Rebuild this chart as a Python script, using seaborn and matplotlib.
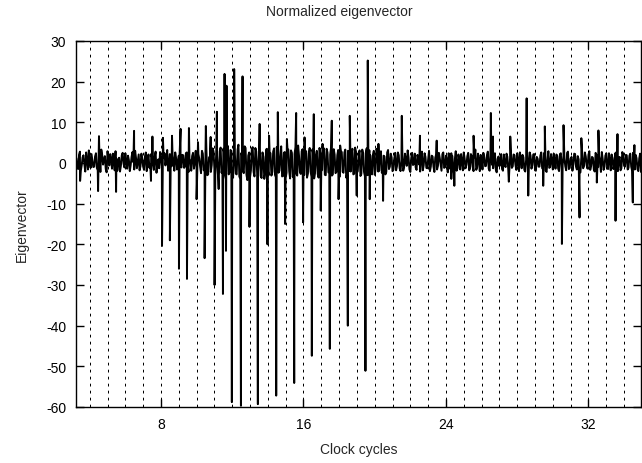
import numpy as np
import pandas as pd
import matplotlib
matplotlib.use("Agg")
import matplotlib.pyplot as plt
import seaborn as sns

# ---------------- data ----------------
title_text = "Normalized eigenvector"
x_label = "Clock cycles"
y_label = "Eigenvector"
x_ticks = [8, 16, 24, 32]
y_ticks = [30, 20, 10, 0, -10, -20, -30, -40, -50, -60]
x_limits = (3.23, 34.95)
y_limits = (-60, 30)

# background noise of the eigenvector, sampled every 0.1 clock cycle
# (set A starts at 3.25, set B starts at 3.30)
noise_step = 0.1
noise_a_start = 3.25
noise_a = [
    1.2, -1.5, 2.8, -0.6, 1.9, -2.1, 0.8, 3.1, -1.2, 0.5,
    -0.9, 2.4, -1.8, 1.1, 3.3, -0.4, 1.7, -2.3, 0.9, 2.2,
    -1.4, 0.6, 2.9, -1.9, 1.3, -0.7, 2.5, -1.1, 0.3, 1.8,
    -2.0, 1.5, 0.2, 3.0, -1.3, 2.1, -0.8, 1.0, -1.7, 2.6,
    0.4, -1.2, 2.2, -0.5, 1.6, -2.4, 0.9, 2.7, -1.0, 1.4,
    -0.6, 3.2, -1.5, 0.7, 2.0, -1.9, 1.2, -0.3, 2.5, -1.1,
    1.9, -0.8, 2.6, -2.2, 0.5, 1.7, -1.4, 3.0, -0.2, 1.1,
    -2.5, 2.3, -1.0, 3.4, -2.8, 1.6, -0.5, 2.9, -3.1, 1.8,
    -3.4, 3.8, -1.6, 2.5, -4.0, 4.2, -2.3, 3.0, -3.6, 2.2,
    -2.8, 4.5, -3.9, 1.9, -2.5, 3.7, -4.2, 2.6, -1.8, 3.9,
    -3.3, 2.8, -2.1, 4.0, -3.7, 1.5, -2.6, 3.5, -3.0, 2.4,
    -2.2, 3.6, -3.5, 2.0, -1.9, 4.1, -3.2, 2.7, -2.4, 3.3,
    -3.8, 2.5, -2.0, 3.9, -3.1, 1.8, -2.7, 3.4, -2.9, 2.9,
    -2.6, 3.7, -3.4, 2.2, -2.3, 3.0, -3.6, 2.4, -1.7, 3.6,
    -3.0, 2.6, -2.5, 3.8, -2.8, 2.1, -2.2, 3.2, -3.3, 2.7,
    -2.4, 3.3, -2.9, 2.0, -2.1, 3.5, -2.6, 2.8, -2.0, 3.1,
    -2.7, 2.4, -3.2, 3.6, -2.3, 1.9, -2.8, 3.0, -1.6, 2.6,
    -1.9, 2.9, -1.3, 1.6, -2.2, 3.2, -0.9, 1.4, -1.7, 2.5,
    -0.8, 1.9, -2.0, 2.7, -1.1, 0.6, 3.1, -1.6, 1.2, -0.5,
    2.3, -1.7, 1.0, -2.1, 2.8, -0.6, 1.5, -1.3, 3.0, -0.9,
    1.6, -2.2, 2.1, -0.7, 1.3, -1.9, 2.6, -1.0, 0.8, 2.4,
    -1.5, 1.8, -2.6, 2.9, -1.2, 0.7, 2.2, -1.8, 1.1, -0.4,
    2.5, -1.4, 1.7, -2.0, 3.3, -1.1, 0.9, 2.0, -1.6, 1.4,
    -0.7, 2.8, -1.9, 1.2, -1.3, 2.4, -2.3, 1.6, 0.3, -1.5,
    2.1, -1.0, 1.5, -2.4, 2.7, -0.8, 1.9, -1.7, 0.6, 2.6,
    -1.3, 1.4, -2.1, 3.0, -1.6, 1.8, -0.5, 2.2, -1.9, 1.0,
    -0.9, 2.6, -1.5, 1.3, -2.2, 2.9, -1.0, 0.7, 2.3, -1.4,
    1.7, -2.0, 2.4, -0.6, 1.1, -1.8, 2.8, -1.2, 1.5, -0.3,
    2.2, -1.6, 0.9, -2.3, 2.5, -0.8, 1.6, -1.4, 2.9, -0.7,
    1.3, -2.1, 2.0, -1.0, 0.6, 2.7, -1.7, 1.8, -1.1, 2.4,
    -1.8, 1.2, -0.5, 2.6, -2.0, 1.5, -1.3, 2.1, -0.9, 1.9,
    -1.2, 2.3, -1.9, 0.8, 2.0, -1.5, 1.1, -2.2, 2.8, -0.6,
]
noise_b_start = 3.30
noise_b = [
    -0.8, 2.0, -1.9, 1.4, -0.3, 2.6, -1.6, 0.4, 2.2, -1.0,
    1.6, -1.2, 0.5, -2.2, 2.0, 0.8, -1.5, 2.9, -0.6, 1.0,
    2.3, -1.8, 1.1, 0.4, -2.1, 1.9, -0.2, 2.4, -1.4, 0.7,
    -0.5, 2.7, -1.6, 1.2, 0.3, -1.8, 2.3, -0.9, 1.6, -2.0,
    2.1, -0.4, 1.3, -1.7, 2.8, 0.1, -1.3, 1.5, -2.1, 2.4,
    1.0, -1.9, 2.2, -0.8, 0.6, 2.6, -1.6, 1.8, -0.5, 2.0,
    -1.2, 2.4, -0.3, 1.1, -1.9, 2.5, 0.2, -1.5, 2.2, -0.9,
    3.0, -1.8, 2.6, -3.0, 1.4, -2.2, 3.6, -1.4, 2.1, -2.7,
    2.9, -2.4, 3.5, -3.0, 1.7, -2.8, 3.2, -1.9, 4.0, -2.6,
    3.2, -3.3, 2.4, -2.0, 4.1, -2.9, 1.8, -3.5, 3.4, -2.2,
    3.7, -2.5, 1.9, -3.2, 2.6, -3.9, 3.3, -1.8, 2.7, -3.1,
    2.8, -2.9, 3.9, -2.4, 1.6, -3.3, 2.5, -3.7, 3.6, -2.0,
    3.1, -3.4, 2.2, -2.6, 4.3, -2.2, 2.9, -3.0, 1.8, -3.6,
    2.4, -2.1, 3.3, -3.8, 2.0, -2.7, 3.7, -2.0, 3.0, -2.9,
    3.5, -2.3, 2.1, -3.1, 3.4, -2.5, 1.9, -3.4, 2.8, -2.2,
    2.6, -3.6, 3.0, -2.0, 2.3, -2.8, 3.8, -2.4, 2.0, -3.2,
    3.3, -2.2, 2.5, -3.0, 3.1, -2.6, 2.0, -2.9, 3.5, -2.1,
    2.2, -2.4, 1.8, -2.8, 2.6, -1.5, 2.3, -2.0, 1.2, -1.8,
    2.6, -1.3, 0.5, -1.9, 2.3, -0.7, 1.4, -2.2, 2.5, -0.2,
    -1.1, 2.0, -0.4, 1.6, -1.8, 2.4, -1.2, 0.9, -2.0, 1.8,
    -0.9, 1.3, -1.6, 2.5, -0.4, 2.2, -1.2, 1.8, -2.3, 1.1,
    2.4, -0.6, 1.0, -1.9, 2.1, -1.6, 0.5, 2.6, -1.3, 1.7,
    -1.8, 2.2, -0.9, 1.4, -1.7, 2.3, -2.0, 1.2, 2.5, -0.8,
    1.9, -1.4, 2.6, -0.5, 2.0, -1.7, 1.0, -0.8, 2.2, -1.9,
    -0.6, 2.3, -1.8, 1.3, -1.2, 2.1, -0.4, 2.4, -2.0, 1.2,
    2.0, -1.7, 0.8, -1.1, 2.6, -1.4, 2.1, -1.8, 1.5, -0.9,
    1.8, -1.3, 2.4, -1.9, 0.7, -1.2, 2.2, -1.6, 0.9, 2.1,
    -1.4, 2.2, -1.7, 1.9, -0.8, 2.5, -1.5, 1.1, -1.9, 2.3,
    -0.9, 1.7, -2.1, 1.4, -1.3, 2.6, -0.6, 2.0, -1.7, 1.5,
    -1.6, 2.5, -1.2, 1.7, -2.2, 1.0, -0.9, 2.4, -1.5, 0.8,
    2.1, -1.5, 2.4, -1.1, 0.9, -1.8, 2.7, -0.7, 2.0, -1.6,
    1.8, -0.9, 2.5, -1.6, 1.2, -2.0, 2.3, -0.8, 1.5, -1.9,
]

# sharp spikes (clock cycle, eigenvector value)
spike_x = [
    3.46, 4.47, 4.52, 5.48, 6.49, 7.44, 7.52, 8.06, 8.11, 8.50,
    8.62, 9.01, 9.10, 9.46, 9.57, 10.00, 10.08, 10.45, 10.52, 10.79,
    11.01, 11.14, 11.24, 11.48, 11.57, 11.65, 11.68, 11.98, 12.11, 12.49,
    12.58, 12.97, 13.44, 13.54, 13.98, 14.07, 14.47, 14.56, 14.97, 15.07,
    15.48, 15.59, 15.98, 16.06, 16.47, 16.58, 16.97, 17.07, 17.48, 17.59,
    17.97, 18.06, 18.49, 18.60, 18.99, 19.48, 19.61, 19.72, 20.21, 20.47,
    21.52, 22.54, 23.48, 24.30, 24.47, 25.55, 26.52, 26.64, 27.53, 27.61,
    28.53, 28.62, 29.46, 29.55, 30.51, 30.60, 31.50, 31.60, 32.47, 32.56,
    33.52, 33.63, 34.49, 34.58,
]
spike_y = [
    -4.4, -6.9, 6.6, -7.1, 7.9, -4.4, 6.5, -20.4, 6.2, -19.0,
    6.7, -26.0, 8.4, -28.5, 8.6, -8.9, 5.1, -23.4, 9.1, 6.4,
    -30.0, 12.6, -6.4, -32.2, 21.9, -21.6, 19.0, -58.8, 23.1, -59.7,
    21.3, -15.7, -59.3, 9.6, -20.0, 6.7, -57.2, 12.5, -15.0, 5.9,
    -54.1, 12.3, -14.6, 6.3, -47.4, 12.0, -11.7, 4.7, -45.7, 10.4,
    -8.9, 4.3, -40.0, 11.6, -8.0, -51.1, 25.2, -8.9, 4.7, -9.3,
    11.6, 6.7, 5.5, -3.9, -5.6, 6.7, 12.3, 6.5, -4.6, 6.5,
    15.9, -8.0, -5.6, 9.0, -19.9, 9.3, -13.4, 6.1, -4.8, 8.0,
    -14.2, 7.1, -9.7, 4.4,
]

# ---------------- build the series ----------------
a_x = noise_a_start + noise_step * np.arange(len(noise_a))
b_x = noise_b_start + noise_step * np.arange(len(noise_b))
df = pd.DataFrame({
    "cycle": np.concatenate([a_x, b_x, np.array(spike_x)]),
    "value": np.concatenate([np.array(noise_a), np.array(noise_b),
                             np.array(spike_y)]),
}).sort_values("cycle", kind="mergesort").reset_index(drop=True)

# ---------------- style ----------------
sns.set_theme(style="white")
plt.rcParams["font.family"] = ["Liberation Sans", "DejaVu Sans"]
plt.rcParams["font.size"] = 10

fig = plt.figure(figsize=(6.42, 4.64), dpi=100)
ax = fig.add_axes([76 / 642, 1 - 408 / 464, (641 - 76) / 642, (408 - 42) / 464])

sns.lineplot(data=df, x="cycle", y="value", ax=ax, color="black",
             linewidth=1.4, estimator=None, sort=False)

ax.set_xlim(*x_limits)
ax.set_ylim(*y_limits)
ax.set_xticks(x_ticks)
ax.set_xticklabels([str(t) for t in x_ticks])
ax.set_yticks(y_ticks)
ax.set_yticklabels([str(t) for t in y_ticks])
ax.set_xticks(np.arange(4, 35), minor=True)

ax.set_axisbelow(True)
ax.grid(False)
ax.grid(which="both", axis="x", color="black", linewidth=0.72,
        linestyle=(0, (2.8, 4.2)))

ax.tick_params(which="major", direction="in", length=6, width=1.0,
               top=True, right=True, bottom=True, left=True,
               labelsize=10, colors="black", pad=7)
ax.tick_params(which="minor", length=0)

for sp in ax.spines.values():
    sp.set_visible(True)
    sp.set_color("black")
    sp.set_linewidth(1.0)

ax.set_xlabel(x_label, fontsize=10, labelpad=8)
ax.set_ylabel(y_label, fontsize=10, labelpad=12)
fig.text(339 / 642, 1 - 12 / 464, title_text, ha="center", va="center",
         fontsize=10)

fig.savefig("out.png", dpi=100, facecolor="white")
